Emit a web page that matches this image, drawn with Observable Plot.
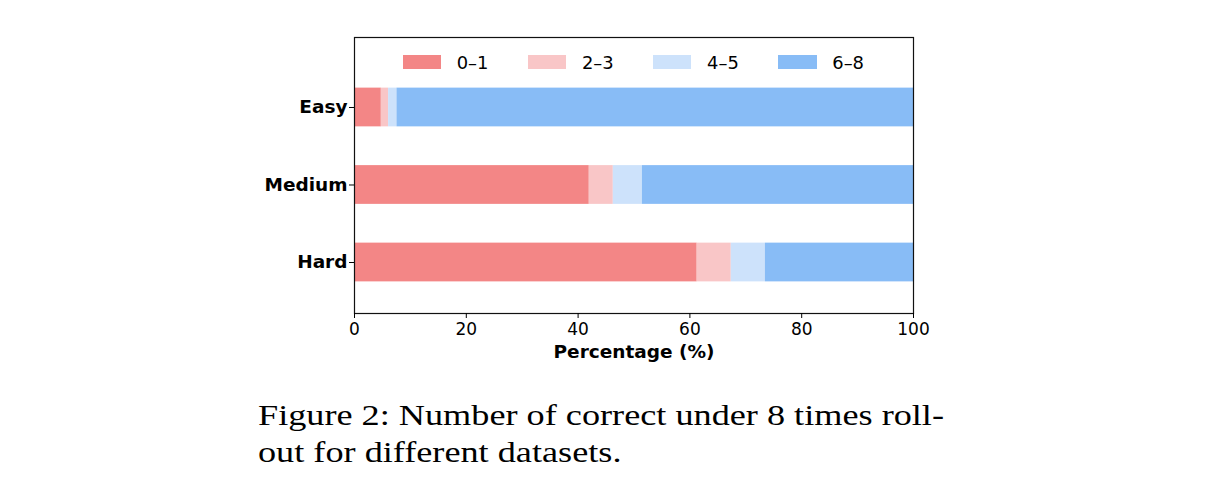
<!DOCTYPE html>
<html><head><meta charset="utf-8">
<script src="https://cdn.jsdelivr.net/npm/d3@7"></script>
<script src="https://cdn.jsdelivr.net/npm/@observablehq/plot@0.6"></script>
<style>
body{margin:0;background:#fff;}
#wrap{position:relative;width:1216px;height:490px;font-family:"DejaVu Sans",sans-serif;color:#000;overflow:hidden;}
.leg{position:absolute;top:50px;height:24px;display:flex;align-items:center;font-size:17.9px;white-space:nowrap;}
.leg .sw{width:38.3px;height:13.4px;margin-right:15.7px;}
.cap{position:absolute;left:258px;font-family:"Liberation Serif",serif;font-size:29px;white-space:nowrap;line-height:1;transform-origin:0 0;}
</style></head><body><div id="wrap"></div><script>
const categories = ["Easy", "Medium", "Hard"];
const groups = ["0–1", "2–3", "4–5", "6–8"];
const colors = ["#F38686", "#F9C6C7", "#CDE2FB", "#88BCF6"];
const v01 = [4.8, 42.0, 61.3];
const v23 = [1.3, 4.3, 6.1];
const v45 = [1.5, 5.2, 6.1];
const v68 = [92.4, 48.5, 26.5];
const xTicks = [0, 20, 40, 60, 80, 100];
const xLabel = "Percentage (%)";
const captionLines = ["Figure 2: Number of correct under 8 times roll-", "out for different datasets."];

const series = [v01, v23, v45, v68];
const rows = [];
categories.forEach((c, i) => {
  let acc = 0;
  series.forEach((s, g) => {
    rows.push({cat: c, idx: i, group: groups[g], x1: acc, x2: acc + s[i]});
    acc += s[i];
  });
});

const chart = Plot.plot({
  width: 1216, height: 380,
  marginLeft: 354, marginRight: 303, marginTop: 37, marginBottom: 67,
  style: {fontFamily: "DejaVu Sans", color: "#000", background: "#fff", overflow: "visible"},
  x: {domain: [0, 100]},
  y: {domain: [-0.903, 2.658], reverse: true},
  color: {domain: groups, range: colors},
  marks: [
    Plot.rect(rows, {x1: "x1", x2: "x2", y1: d => d.idx - 0.25, y2: d => d.idx + 0.25, fill: "group"}),
    Plot.frame({stroke: "#111", strokeWidth: 1.2}),
    Plot.axisX({ticks: xTicks, tickSize: 5, tickPadding: 4, fontSize: 17, label: null}),
    Plot.axisY({ticks: [0, 1, 2], tickFormat: i => categories[i], tickSize: 5, tickPadding: 2, fontSize: 18.5, fontWeight: "bold", label: null}),
    Plot.text([xLabel], {frameAnchor: "bottom", dy: 39, fontSize: 18.5, fontWeight: "bold", lineAnchor: "middle"})
  ]
});
const wrap = document.getElementById("wrap");
wrap.appendChild(chart);

groups.forEach((g, i) => {
  const d = document.createElement("div");
  d.className = "leg";
  d.style.left = (402.7 + i * 125.2) + "px";
  d.innerHTML = `<span class="sw" style="background:${colors[i]}"></span><span>${g}</span>`;
  wrap.appendChild(d);
});

const capEls = captionLines.map((t, i) => {
  const d = document.createElement("div");
  d.className = "cap";
  d.textContent = t;
  d.style.top = (401 + i * 37) + "px";
  wrap.appendChild(d);
  return d;
});
const sx = 686 / capEls[0].getBoundingClientRect().width;
capEls.forEach(c => c.style.transform = `scaleX(${sx})`);
</script></body></html>
